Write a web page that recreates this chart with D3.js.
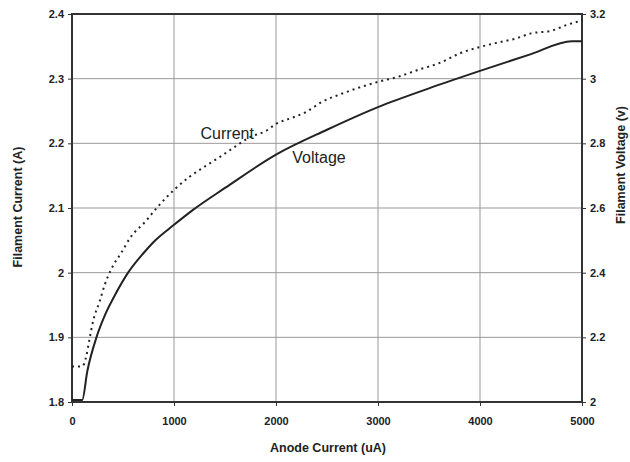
<!DOCTYPE html>
<html>
<head>
<meta charset="utf-8">
<script src="https://cdn.jsdelivr.net/npm/d3@7"></script>
<style>
body { margin:0; background:#fff; }
text { font-family: Arial, "Liberation Sans", sans-serif; fill:#222; }
.tick-label { font-size:11px; font-weight:bold; }
.title { font-size:12.5px; font-weight:bold; }
.series-label { font-size:16px; }
</style>
</head>
<body>
<script>
// anode current (uA) vs filament current (A), dotted
var currentX = [0, 100, 140, 170, 210, 270, 320, 390, 480, 580, 720, 830, 1000, 1150, 1300, 1450, 1600, 1750, 1900, 2000, 2150, 2300, 2450, 2650, 2850, 3000, 3200, 3400, 3600, 3800, 4000, 4150, 4350, 4500, 4700, 4850, 5000];
var currentY = [1.855, 1.855, 1.871, 1.896, 1.927, 1.955, 1.981, 2.007, 2.030, 2.056, 2.079, 2.100, 2.128, 2.148, 2.164, 2.179, 2.195, 2.210, 2.219, 2.230, 2.239, 2.249, 2.264, 2.277, 2.288, 2.295, 2.303, 2.314, 2.324, 2.339, 2.349, 2.355, 2.362, 2.370, 2.374, 2.383, 2.390];

// anode current (uA) vs filament voltage (V), solid
var voltageX = [0, 100, 150, 240, 325, 420, 550, 700, 800, 1000, 1190, 1500, 2000, 2500, 3000, 3500, 4000, 4500, 4900, 5000];
var voltageY = [2.006, 2.006, 2.095, 2.20, 2.27, 2.33, 2.40, 2.46, 2.495, 2.548, 2.595, 2.662, 2.765, 2.842, 2.912, 2.97, 3.024, 3.076, 3.116, 3.116];

var xTicks = [0, 1000, 2000, 3000, 4000, 5000];
var leftTicks = [1.8, 1.9, 2, 2.1, 2.2, 2.3, 2.4];
var rightTicks = [2, 2.2, 2.4, 2.6, 2.8, 3, 3.2];

var margin = {top: 14, right: 48, bottom: 60, left: 72};
var width = 630 - margin.left - margin.right,
	height = 462 - margin.top - margin.bottom;

var svg = d3.select("body").append("svg")
	.attr("width", 630)
	.attr("height", 462);

var g = svg.append("g")
	.attr("transform", "translate(" + margin.left + "," + margin.top + ")");

var x = d3.scaleLinear().domain([0, 5000]).range([0, width]);
var yL = d3.scaleLinear().domain([1.8, 2.4]).range([height, 0]);
var yR = d3.scaleLinear().domain([2, 3.2]).range([height, 0]);

// grid
g.append("g").selectAll("line").data(xTicks).enter().append("line")
	.attr("x1", function(d){ return x(d); })
	.attr("x2", function(d){ return x(d); })
	.attr("y1", 0).attr("y2", height)
	.attr("stroke", "#999").attr("stroke-width", 1);
g.append("g").selectAll("line").data(leftTicks).enter().append("line")
	.attr("x1", 0).attr("x2", width)
	.attr("y1", function(d){ return yL(d); })
	.attr("y2", function(d){ return yL(d); })
	.attr("stroke", "#999").attr("stroke-width", 1);

// axes
var fmt = function(d){ return String(d); };
var ax = g.append("g").attr("transform", "translate(0," + height + ")")
	.call(d3.axisBottom(x).tickValues(xTicks).tickFormat(fmt).tickSize(4).tickPadding(11));
var al = g.append("g")
	.call(d3.axisLeft(yL).tickValues(leftTicks).tickFormat(fmt).tickSize(4).tickPadding(4));
var ar = g.append("g").attr("transform", "translate(" + width + ",0)")
	.call(d3.axisRight(yR).tickValues(rightTicks).tickFormat(fmt).tickSize(4).tickPadding(4));

[ax, al, ar].forEach(function(a){
	a.select(".domain").remove();
	a.selectAll("line").attr("stroke", "#333");
	a.selectAll("text").attr("class", "tick-label").attr("font-family", null).attr("font-size", null).attr("fill", "#222");
});

// frame
g.append("rect")
	.attr("x", 0).attr("y", 0)
	.attr("width", width).attr("height", height)
	.attr("fill", "none").attr("stroke", "#333").attr("stroke-width", 2);

// lines
var currentData = currentX.map(function(v, i){ return [v, currentY[i]]; });
var voltageData = voltageX.map(function(v, i){ return [v, voltageY[i]]; });

var lineL = d3.line().x(function(d){ return x(d[0]); }).y(function(d){ return yL(d[1]); }).curve(d3.curveMonotoneX);
var lineR = d3.line().x(function(d){ return x(d[0]); }).y(function(d){ return yR(d[1]); }).curve(d3.curveMonotoneX);

g.append("path").datum(currentData)
	.attr("d", lineL)
	.attr("fill", "none")
	.attr("stroke", "#222")
	.attr("stroke-width", 2)
	.attr("stroke-dasharray", "2,4");

g.append("path").datum(voltageData)
	.attr("d", lineR)
	.attr("fill", "none")
	.attr("stroke", "#222")
	.attr("stroke-width", 2);

// series labels
g.append("text").attr("class", "series-label")
	.attr("x", x(1260)).attr("y", yL(2.206))
	.text("Current");
g.append("text").attr("class", "series-label")
	.attr("x", x(2160)).attr("y", yR(2.74))
	.text("Voltage");

// titles
svg.append("text").attr("class", "title")
	.attr("x", 328).attr("y", 452)
	.attr("text-anchor", "middle")
	.text("Anode Current (uA)");
svg.append("text").attr("class", "title")
	.attr("transform", "translate(22,207) rotate(-90)")
	.attr("text-anchor", "middle")
	.text("Filament Current (A)");
svg.append("text").attr("class", "title")
	.attr("transform", "translate(625,165) rotate(-90)")
	.attr("text-anchor", "middle")
	.text("Filament Voltage (v)");
</script>
</body>
</html>
